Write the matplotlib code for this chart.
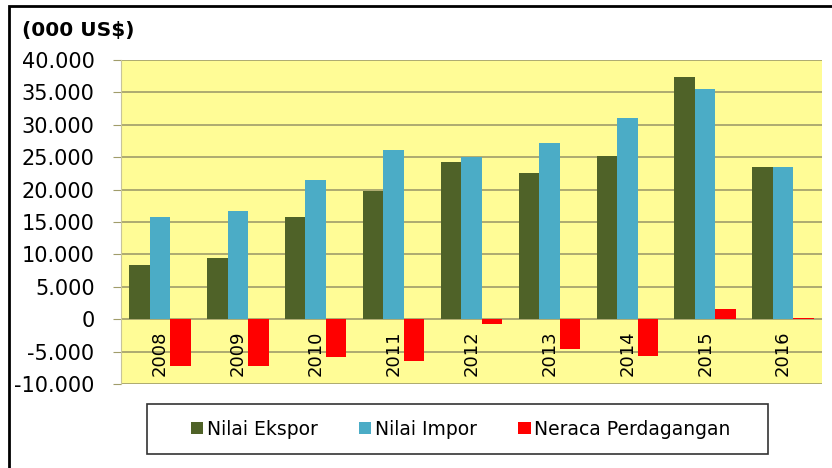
import numpy as np
import matplotlib.pyplot as plt
from matplotlib.patches import Rectangle

# data (000 US$)
years = ['2008', '2009', '2010', '2011', '2012', '2013', '2014', '2015', '2016']
ekspor = [8300, 9400, 15800, 19800, 24200, 22500, 25200, 37350, 23550]
impor = [15700, 16750, 21450, 26100, 25050, 27200, 31000, 35500, 23550]
neraca = [-7300, -7300, -5800, -6400, -700, -4600, -5700, 1600, 150]
yticks = [40000, 35000, 30000, 25000, 20000, 15000, 10000, 5000, 0, -5000, -10000]

fig = plt.figure(figsize=(8.32, 4.68), dpi=100)
ax = fig.add_axes([0.1454, 0.1795, 0.8426, 0.6923])
ax.set_facecolor('#FFFC96')

x = np.arange(len(years))
w = 0.263
ax.bar(x - w, ekspor, w, color='#4F6228', label='Nilai Ekspor', zorder=3)
ax.bar(x, impor, w, color='#4BACC6', label='Nilai Impor', zorder=3)
ax.bar(x + w, neraca, w, color='#FF0000', label='Neraca Perdagangan', zorder=3)

ax.set_xlim(-0.5, len(years) - 0.5)
ax.set_ylim(-10000, 40000)
ax.set_yticks(yticks)
ax.set_yticklabels(['0' if v == 0 else '{:,}'.format(v).replace(',', '.') for v in yticks],
                   fontsize=15)
ax.yaxis.grid(True, color='#A09C6A', linewidth=1.2, zorder=1)
ax.tick_params(axis='y', length=6, color='#A09C6A', pad=13)
ax.set_xticks([])
for s in ['top', 'right', 'bottom']:
    ax.spines[s].set_visible(False)
ax.spines['left'].set_color('#C8C49A')

# year labels inside the plot, under the zero line
for i, y in enumerate(years):
    ax.text(i, -1800, y, rotation=90, ha='center', va='top', fontsize=13, zorder=4)

fig.text(0.026, 0.934, '(000 US$)', fontsize=14.5, fontweight='bold', va='center')

leg = fig.legend(loc='center', bbox_to_anchor=(0.554, 0.0833), ncol=3, fontsize=13.5,
                 frameon=False, handlelength=0.65, handleheight=0.65, handletextpad=0.2,
                 columnspacing=2.2)

# legend frame
fig.patches.append(Rectangle((147 / 832, 1 - 454 / 468), 621 / 832, 50 / 468,
                             transform=fig.transFigure, fill=False,
                             edgecolor='#333333', linewidth=1.2))

# outer border
fig.patches.append(Rectangle((9 / 832, -0.05), 1.1, 1 - 6 / 468 + 0.05,
                             transform=fig.transFigure, fill=False,
                             edgecolor='black', linewidth=2))

plt.savefig('out.png', dpi=100)
